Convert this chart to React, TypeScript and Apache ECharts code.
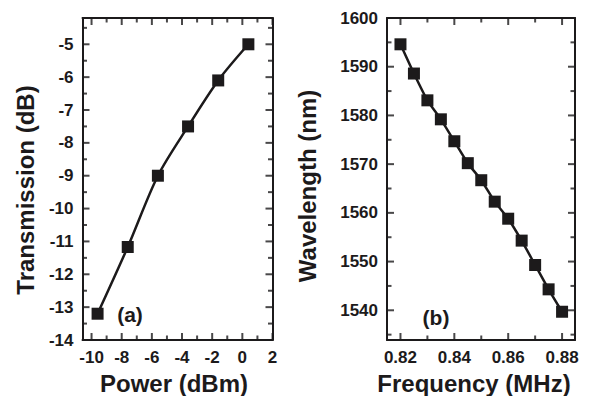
import React, { useEffect, useRef } from "react";
import * as echarts from "echarts";

// Panel (a)
const powerDbm = [-9.6, -7.6, -5.6, -3.6, -1.6, 0.4];
const transmissionDb = [-13.2, -11.17, -9.0, -7.5, -6.1, -5.0];
const powerTicks = [-10, -8, -6, -4, -2, 0, 2];
const powerMinorTicks = [-9, -7, -5, -3, -1, 1];
const transTicks = [-14, -13, -12, -11, -10, -9, -8, -7, -6, -5];
const transMinorTicks = [-13.5, -12.5, -11.5, -10.5, -9.5, -8.5, -7.5, -6.5, -5.5, -4.5];

// Panel (b)
const frequencyMhz = [0.82, 0.825, 0.83, 0.835, 0.84, 0.845, 0.85, 0.855, 0.86, 0.865, 0.87, 0.875, 0.88];
const wavelengthNm = [1594.6, 1588.6, 1583.1, 1579.2, 1574.7, 1570.2, 1566.7, 1562.3, 1558.8, 1554.3, 1549.3, 1544.3, 1539.7];
const freqTicks = [0.82, 0.84, 0.86, 0.88];
const freqMinorTicks = [0.83, 0.85, 0.87];
const waveTicks = [1540, 1550, 1560, 1570, 1580, 1590, 1600];
const waveMinorTicks = [1535, 1545, 1555, 1565, 1575, 1585, 1595];

const INK = "#1c1a1b";
const FONT = "'Liberation Sans', Arial, sans-serif";
const MAJOR = 7;
const MINOR = 4.5;
const TW = 2;

function makeAxis(
  gridIndex: number,
  position: string,
  min: number,
  max: number,
  labels: number[] | null,
  fmt?: (v: number) => string
) {
  return {
    type: "value",
    gridIndex,
    position,
    min,
    max,
    axisLine: { show: true, onZero: false, lineStyle: { color: INK, width: 2 } },
    splitLine: { show: false },
    axisTick: { show: false },
    axisLabel: {
      show: !!labels,
      customValues: labels || undefined,
      color: INK,
      fontFamily: FONT,
      fontWeight: "bold",
      fontSize: 17,
      margin: 9,
      formatter: fmt ? (v: number) => fmt(v) : undefined,
    },
  };
}

// builds tick marks as data items sitting on the frame edges
function tickItems(
  xr: number[],
  yr: number[],
  xMajor: number[],
  xMinor: number[],
  yMajor: number[],
  yMinor: number[]
) {
  const items: any[] = [];
  const addX = (vals: number[], len: number) => {
    vals.forEach((v) => {
      items.push({ value: [v, yr[0]], symbolSize: [TW, len], symbolOffset: [0, -len / 2] });
      items.push({ value: [v, yr[1]], symbolSize: [TW, len], symbolOffset: [0, len / 2] });
    });
  };
  const addY = (vals: number[], len: number) => {
    vals.forEach((v) => {
      items.push({ value: [xr[0], v], symbolSize: [len, TW], symbolOffset: [len / 2, 0] });
      items.push({ value: [xr[1], v], symbolSize: [len, TW], symbolOffset: [-len / 2, 0] });
    });
  };
  addX(xMajor, MAJOR);
  addX(xMinor, MINOR);
  addY(yMajor, MAJOR);
  addY(yMinor, MINOR);
  return items;
}

export default function App() {
  const ref = useRef<HTMLDivElement>(null);
  useEffect(() => {
    document.body.style.margin = "0";
    if (!ref.current) return;
    const chart = echarts.init(ref.current, undefined, { renderer: "svg" });
    const xa = [-10.6, 2];
    const ya = [-14, -4.2];
    const xb = [0.815, 0.8848];
    const yb = [1533.9, 1600];
    const fmtInt = (v: number) => String(Math.round(v));
    const fmt2 = (v: number) => v.toFixed(2);
    chart.setOption({
      animation: false,
      backgroundColor: "#ffffff",
      grid: [
        { left: 82.5, top: 18, width: 190, height: 322 },
        { left: 387, top: 18, width: 188, height: 322 },
      ],
      xAxis: [
        makeAxis(0, "bottom", xa[0], xa[1], powerTicks, fmtInt),
        makeAxis(0, "top", xa[0], xa[1], null),
        makeAxis(1, "bottom", xb[0], xb[1], freqTicks, fmt2),
        makeAxis(1, "top", xb[0], xb[1], null),
      ],
      yAxis: [
        makeAxis(0, "left", ya[0], ya[1], transTicks, fmtInt),
        makeAxis(0, "right", ya[0], ya[1], null),
        makeAxis(1, "left", yb[0], yb[1], waveTicks, fmtInt),
        makeAxis(1, "right", yb[0], yb[1], null),
      ],
      series: [
        {
          type: "scatter",
          xAxisIndex: 0,
          yAxisIndex: 0,
          symbol: "rect",
          clip: false,
          silent: true,
          itemStyle: { color: INK },
          data: tickItems(xa, ya, powerTicks, powerMinorTicks, transTicks, transMinorTicks),
        },
        {
          type: "scatter",
          xAxisIndex: 2,
          yAxisIndex: 2,
          symbol: "rect",
          clip: false,
          silent: true,
          itemStyle: { color: INK },
          data: tickItems(xb, yb, freqTicks, freqMinorTicks, waveTicks, waveMinorTicks),
        },
        {
          type: "line",
          xAxisIndex: 0,
          yAxisIndex: 0,
          data: powerDbm.map((x, i) => [x, transmissionDb[i]]),
          smooth: 0.3,
          symbol: "rect",
          symbolSize: 12,
          lineStyle: { color: INK, width: 2.5 },
          itemStyle: { color: INK },
        },
        {
          type: "line",
          xAxisIndex: 2,
          yAxisIndex: 2,
          data: frequencyMhz.map((x, i) => [x, wavelengthNm[i]]),
          smooth: 0.2,
          symbol: "rect",
          symbolSize: 12,
          lineStyle: { color: INK, width: 2.5 },
          itemStyle: { color: INK },
        },
      ],
      graphic: [
        { type: "text", x: 25, y: 190, rotation: Math.PI / 2, style: { text: "Transmission (dB)", fill: INK, font: `bold 24px ${FONT}`, align: "center", verticalAlign: "middle" } },
        { type: "text", x: 174, y: 383, style: { text: "Power (dBm)", fill: INK, font: `bold 24px ${FONT}`, align: "center", verticalAlign: "middle" } },
        { type: "text", x: 307, y: 186, rotation: Math.PI / 2, style: { text: "Wavelength (nm)", fill: INK, font: `bold 24px ${FONT}`, align: "center", verticalAlign: "middle" } },
        { type: "text", x: 474, y: 383, style: { text: "Frequency (MHz)", fill: INK, font: `bold 24px ${FONT}`, align: "center", verticalAlign: "middle" } },
        { type: "text", x: 130, y: 314, style: { text: "(a)", fill: INK, font: `bold 21px ${FONT}`, align: "center", verticalAlign: "middle" } },
        { type: "text", x: 436, y: 317, style: { text: "(b)", fill: INK, font: `bold 21px ${FONT}`, align: "center", verticalAlign: "middle" } },
      ],
    });
    return () => chart.dispose();
  }, []);
  return <div ref={ref} style={{ width: 589, height: 396 }} />;
}
